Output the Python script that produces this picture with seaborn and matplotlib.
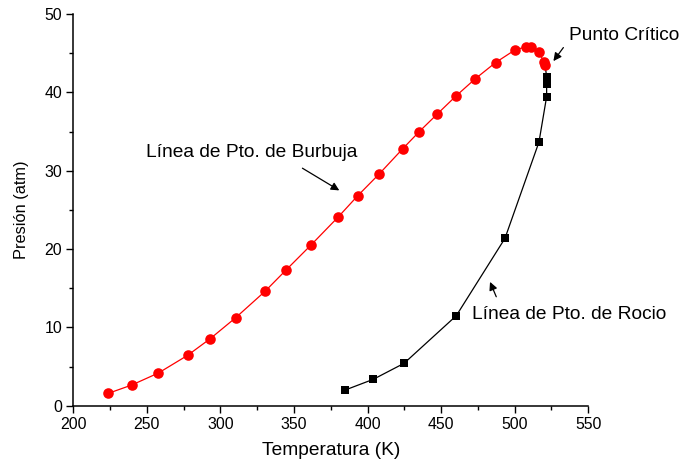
import matplotlib
matplotlib.use("Agg")
import matplotlib.pyplot as plt
from matplotlib.ticker import MultipleLocator
import seaborn as sns
import pandas as pd

# Bubble-point line (Línea de Pto. de Burbuja)
bubble_T = [223.8, 239.7, 257.8, 277.7, 293.1, 310.4, 330.3, 344.8, 361.5, 380.1,
            393.3, 408.0, 423.9, 435.2, 447.2, 459.9, 473.0, 487.0, 500.4, 507.8,
            511.0, 516.5, 519.8, 520.6]
bubble_P = [1.58, 2.64, 4.17, 6.43, 8.56, 11.24, 14.6, 17.36, 20.5, 24.1,
            26.8, 29.6, 32.8, 35.0, 37.2, 39.5, 41.7, 43.8, 45.44, 45.8,
            45.8, 45.15, 43.9, 43.5]

# Dew-point line (Línea de Pto. de Rocio)
dew_T = [384.6, 403.9, 424.8, 460.3, 493.4, 516.5, 521.7, 521.7, 521.7]
dew_P = [1.99, 3.37, 5.41, 11.49, 21.37, 33.66, 39.45, 41.1, 42.0]

# Critical point (line from dew branch ends here)
crit_T = [520.6]
crit_P = [43.5]

x_ticks = [200, 250, 300, 350, 400, 450, 500, 550]
y_ticks = [0, 10, 20, 30, 40, 50]

sns.set_style("ticks")
plt.rcParams['font.family'] = ['Liberation Sans', 'DejaVu Sans']
plt.rcParams['text.color'] = 'black'
plt.rcParams['axes.labelcolor'] = 'black'
plt.rcParams['xtick.color'] = 'black'
plt.rcParams['ytick.color'] = 'black'

fig = plt.figure(figsize=(6.8, 4.68), dpi=100)
ax = fig.add_axes([0.1078, 0.1331, 0.7573, 0.8370])

bubble = pd.DataFrame({"T": bubble_T, "P": bubble_P})
dew = pd.DataFrame({"T": dew_T + crit_T, "P": dew_P + crit_P})

sns.lineplot(data=dew, x="T", y="P", ax=ax, color="black", linewidth=0.9,
             estimator=None, sort=False)
sns.scatterplot(x=dew_T, y=dew_P, ax=ax, marker="s", color="black", s=36,
                edgecolor="black", linewidth=0, zorder=3)
sns.lineplot(data=bubble, x="T", y="P", ax=ax, color="red", linewidth=0.9,
             estimator=None, sort=False)
sns.scatterplot(x=bubble_T, y=bubble_P, ax=ax, marker="o", color="red", s=58,
                edgecolor="red", linewidth=0, zorder=4)

ax.set_xlim(200, 550)
ax.set_ylim(0, 50)
ax.set_xticks(x_ticks)
ax.set_yticks(y_ticks)
ax.xaxis.set_minor_locator(MultipleLocator(25))
ax.yaxis.set_minor_locator(MultipleLocator(5))
ax.tick_params(which="major", length=5, width=1, labelsize=11.4, color="black",
               labelcolor="black", pad=3)
ax.tick_params(which="minor", length=3, width=1, color="black")
for s in ["left", "bottom"]:
    ax.spines[s].set_linewidth(1.1)
    ax.spines[s].set_color("black")
sns.despine(ax=ax)

ax.set_xlabel("Temperatura (K)", fontsize=13.8, labelpad=7, color="black")
ax.set_ylabel("Presión (atm)", fontsize=11.8, labelpad=11, color="black")

arrow = dict(arrowstyle="-|>", color="black", lw=0.9, mutation_scale=12)
ax.annotate("", xy=(382.4, 27.3), xytext=(354.1, 30.5), arrowprops=arrow)
ax.text(392.8, 32.35, "Línea de Pto. de Burbuja", fontsize=13.8, ha="right",
        va="center", color="black")

ax.annotate("", xy=(525.2, 43.7), xytext=(534.2, 46.0), arrowprops=arrow,
            annotation_clip=False)
ax.text(536.9, 47.3, "Punto Crítico", fontsize=13.8, ha="left", va="center",
        clip_on=False, color="black")

ax.annotate("", xy=(482.5, 16.13), xytext=(488.2, 13.58), arrowprops=arrow)
ax.text(471.0, 11.6, "Línea de Pto. de Rocio", fontsize=13.8, ha="left",
        va="center", clip_on=False, color="black")

fig.savefig("out.png", dpi=100)
